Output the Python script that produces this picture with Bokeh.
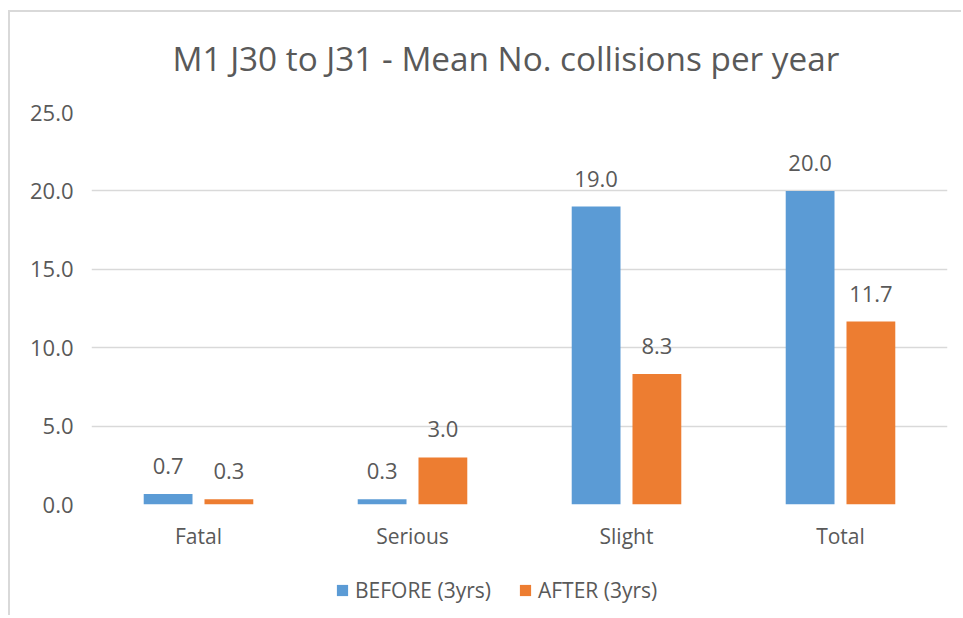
from bokeh.plotting import figure
from bokeh.layouts import column
from bokeh.models import (ColumnDataSource, FactorRange, Range1d, PrintfTickFormatter,
                          FixedTicker, Legend, LegendItem)
from bokeh.transform import dodge
from bokeh.core.properties import value
from bokeh.embed import file_html
from bokeh.resources import INLINE

categories = ["Fatal", "Serious", "Slight", "Total"]
before = [0.67, 0.33, 19.0, 20.0]
after = [0.33, 3.0, 8.33, 11.67]
series_names = ["BEFORE (3yrs)", "AFTER (3yrs)"]
y_ticks = [0, 5, 10, 15, 20, 25]
title_text = "M1 J30 to J31 - Mean No. collisions per year"

BLUE = "#5B9BD5"
ORANGE = "#ED7D31"
TXT = "#595959"
GRID = "#D9D9D9"
FONT = "Open Sans"

src = ColumnDataSource(dict(
    cat=categories,
    before=before,
    after=after,
    before_lbl=[f"{v:.1f}" for v in before],
    after_lbl=[f"{v:.1f}" for v in after],
))

W = 951
H_MAIN, H_LEG = 553, 50
p = figure(width=W, height=H_MAIN, output_backend="svg", toolbar_location=None,
           x_range=FactorRange(factors=categories, range_padding=0),
           y_range=Range1d(0, 25),
           min_border_left=81, min_border_right=14, min_border_top=99, min_border_bottom=61)
p.outline_line_color = None
p.background_fill_color = "white"
p.border_fill_color = "white"

off = 0.142
bw = 0.228
r1 = p.vbar(x=dodge("cat", -off, range=p.x_range), top="before", width=bw, source=src,
            fill_color=BLUE, line_color=None)
r2 = p.vbar(x=dodge("cat", off, range=p.x_range), top="after", width=bw, source=src,
            fill_color=ORANGE, line_color=None)

for col, o in (("before_lbl", -off), ("after_lbl", off)):
    p.text(x=dodge("cat", o, range=p.x_range), y=col.split("_")[0], text=col, source=src,
           text_align="center", text_baseline="alphabetic", y_offset=-28,
           text_font=value(FONT), text_font_size="22px", text_color=TXT)

# axes
p.yaxis.ticker = FixedTicker(ticks=y_ticks)
p.yaxis.formatter = PrintfTickFormatter(format="%.1f")
for ax in (p.xaxis, p.yaxis):
    ax.axis_line_color = None
    ax.major_tick_line_color = None
    ax.minor_tick_line_color = None
    ax.major_tick_in = 0
    ax.major_tick_out = 0
    ax.minor_tick_in = 0
    ax.minor_tick_out = 0
    ax.major_label_text_font = FONT
    ax.major_label_text_color = TXT
p.yaxis.major_label_text_font_size = "22px"
p.xaxis.major_label_text_font_size = "21px"
p.yaxis.major_label_standoff = 18
p.xaxis.major_label_standoff = 17
p.xgrid.grid_line_color = None
p.ygrid.grid_line_color = GRID
p.ygrid.grid_line_width = 1.5

# title
p.title.text = title_text
p.title.align = "left"
p.title.offset = 81
p.title.vertical_align = "bottom"
p.title.text_font = FONT
p.title.text_font_size = "33.3px"
p.title.text_font_style = "normal"
p.title.text_color = TXT
p.title.standoff = 40
p.title.padding = dict(left=0, right=0, top=0, bottom=12)

# legend in a strip below the chart (same side borders so canvases line up)
pl = figure(width=W, height=H_LEG, output_backend="svg", toolbar_location=None,
            x_range=Range1d(0, 1), y_range=Range1d(0, 1),
            min_border_left=81, min_border_right=14, min_border_top=0, min_border_bottom=0)
pl.xaxis.visible = False
pl.yaxis.visible = False
pl.xgrid.grid_line_color = None
pl.ygrid.grid_line_color = None
pl.outline_line_color = None
pl.background_fill_color = None
pl.border_fill_color = None
nan = float("nan")
lr1 = pl.vbar(x=[nan], top=[nan], width=0.1, fill_color=BLUE, line_color=None)
lr2 = pl.vbar(x=[nan], top=[nan], width=0.1, fill_color=ORANGE, line_color=None)
legend = Legend(items=[LegendItem(label=series_names[0], renderers=[lr1]),
                       LegendItem(label=series_names[1], renderers=[lr2])],
                location=(244, 11), orientation="horizontal",
                padding=0, margin=0, spacing=27, border_line_color=None,
                background_fill_alpha=0, glyph_width=14, glyph_height=14,
                label_standoff=6, label_text_font=FONT, label_text_font_size="21px",
                label_text_color=TXT, label_height=20)
pl.add_layout(legend, "center")

layout = column(p, pl, spacing=0,
                styles={"border-left": f"2px solid {GRID}", "border-top": f"2px solid {GRID}",
                        "margin-left": "8px", "margin-top": "10px",
                        "background-color": "white"})

open("out.html", "w").write(file_html(layout, INLINE))
